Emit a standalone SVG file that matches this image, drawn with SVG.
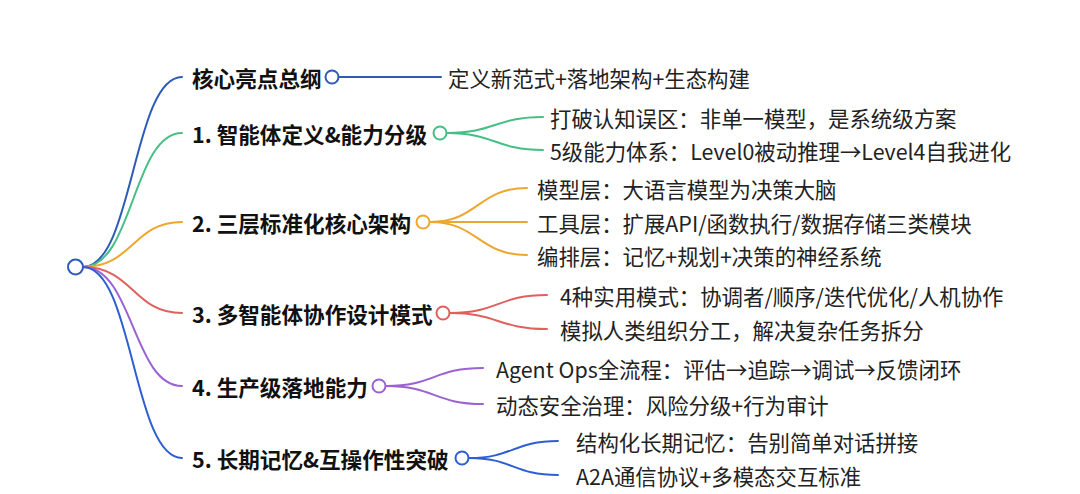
<svg xmlns="http://www.w3.org/2000/svg" width="1080" height="494" viewBox="0 0 1080 494">
<style>
.lbl{font-family:"Noto Sans CJK SC","Noto Sans",sans-serif;font-size:21.6px;font-weight:bold;fill:#111;dominant-baseline:central}
.txt{font-family:"Noto Sans CJK SC","Noto Sans",sans-serif;font-size:21.4px;fill:#222;dominant-baseline:central}
.ln{fill:none;stroke-width:2;stroke-linecap:round}
.dot{fill:#fff;stroke-width:2}
.c0{stroke:#2c5cb8}.c1{stroke:#45bf84}.c2{stroke:#eea62e}.c3{stroke:#e0605e}.c4{stroke:#9a62d2}.c5{stroke:#2d5fd2}
</style>
<rect width="1080" height="494" fill="#fff"/>
<g id="connectors">
<path class="ln c0" d="M83,267 C133,267 133,77 182,77"/>
<path class="ln c1" d="M83,267 C133,267 133,133 182,133"/>
<path class="ln c2" d="M83,267 C133,267 133,222 182,222"/>
<path class="ln c3" d="M83,267 C133,267 133,313 182,313"/>
<path class="ln c4" d="M83,267 C133,267 133,386 182,386"/>
<path class="ln c5" d="M83,267 C133,267 133,458 182,458"/>
<path class="ln c0" d="M339,77 L441,77"/>
<path class="ln c1" d="M447,133 C495,133 495,117 543,117"/>
<path class="ln c1" d="M447,133 C495,133 495,150 543,150"/>
<path class="ln c2" d="M430,222 C478,222 478,188 527,188"/>
<path class="ln c2" d="M430,222 L527,222"/>
<path class="ln c2" d="M430,222 C478,222 478,255 527,255"/>
<path class="ln c3" d="M450,313 C498,313 498,295 547,295"/>
<path class="ln c3" d="M450,313 C498,313 498,329 547,329"/>
<path class="ln c4" d="M386,386 C434,386 434,368 483,368"/>
<path class="ln c4" d="M386,386 C434,386 434,404 483,404"/>
<path class="ln c5" d="M469,458 C513,458 513,441 558,441"/>
<path class="ln c5" d="M469,458 C513,458 513,475 558,475"/>
</g>
<g id="root"><circle class="dot c0" cx="75.5" cy="267" r="7.5"/></g>
<g id="n0">
<text class="lbl" x="192" y="77">核心亮点总纲</text>
<circle class="dot c0" cx="332" cy="77" r="6.5"/>
<text class="txt" x="448" y="77">定义新范式+落地架构+生态构建</text>
</g>
<g id="n1">
<text class="lbl" x="192" y="133">1. 智能体定义&amp;能力分级</text>
<circle class="dot c1" cx="440" cy="133" r="6.5"/>
<text class="txt" x="550" y="117">打破认知误区：非单一模型，是系统级方案</text>
<text class="txt" x="550" y="150">5级能力体系：Level0被动推理→Level4自我进化</text>
</g>
<g id="n2">
<text class="lbl" x="192" y="222">2. 三层标准化核心架构</text>
<circle class="dot c2" cx="423" cy="222" r="6.5"/>
<text class="txt" x="537" y="188">模型层：大语言模型为决策大脑</text>
<text class="txt" x="537" y="222">工具层：扩展API/函数执行/数据存储三类模块</text>
<text class="txt" x="537" y="255">编排层：记忆+规划+决策的神经系统</text>
</g>
<g id="n3">
<text class="lbl" x="192" y="313">3. 多智能体协作设计模式</text>
<circle class="dot c3" cx="443" cy="313" r="6.5"/>
<text class="txt" x="560" y="295">4种实用模式：协调者/顺序/迭代优化/人机协作</text>
<text class="txt" x="560" y="329">模拟人类组织分工，解决复杂任务拆分</text>
</g>
<g id="n4">
<text class="lbl" x="192" y="386">4. 生产级落地能力</text>
<circle class="dot c4" cx="379" cy="386" r="6.5"/>
<text class="txt" x="496" y="368">Agent Ops全流程：评估→追踪→调试→反馈闭环</text>
<text class="txt" x="496" y="404">动态安全治理：风险分级+行为审计</text>
</g>
<g id="n5">
<text class="lbl" x="192" y="458">5. 长期记忆&amp;互操作性突破</text>
<circle class="dot c5" cx="462" cy="458" r="6.5"/>
<text class="txt" x="576" y="441">结构化长期记忆：告别简单对话拼接</text>
<text class="txt" x="576" y="475">A2A通信协议+多模态交互标准</text>
</g>
</svg>
